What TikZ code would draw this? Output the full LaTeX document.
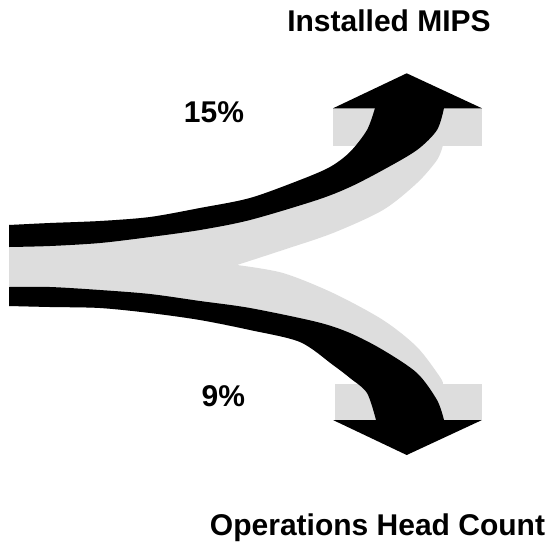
\documentclass[tikz,border=0pt]{standalone}
\usepackage{fontspec}
\setmainfont{Liberation Sans}
\definecolor{flowgray}{RGB}{221,221,221}
\begin{document}
\begin{tikzpicture}[x=1pt,y=1pt]
    \tikzstyle{every node}+=[inner sep=0pt, font=\fontsize{30}{36}\selectfont\bfseries]
    \useasboundingbox (0,0) rectangle (549,-542);
    \fill [flowgray] plot [smooth] coordinates {(9,-225) (50,-223) (100,-221) (150,-217) (200,-208) (250,-198) (300,-180) (330,-167) (350,-152) (367,-130) (375,-108)} -- (443,-108) -- (443,-145)
        -- plot [smooth] coordinates {(443,-145) (437,-160) (417,-183) (383,-210) (333,-233) (283,-250) (237,-265)}
        -- plot [smooth] coordinates {(237,-265) (283,-273) (333,-293) (383,-320) (417,-347) (440,-377) (443,-384)} -- (443,-420)
        -- plot [smooth] coordinates {(376,-420) (367,-393) (350,-378) (333,-365) (300,-342) (250,-330) (200,-320) (150,-313) (100,-308) (50,-307) (9,-306)} -- cycle;
    \fill [flowgray] (333,-108.3) rectangle (482,-145.7);
    \fill [flowgray] (335,-384) rectangle (482,-420);
    \fill [black] plot [smooth] coordinates {(9,-225) (50,-223) (100,-221) (150,-217) (200,-208) (250,-198) (300,-180) (330,-167) (350,-152) (367,-130) (375,-108)}
        -- plot [smooth] coordinates {(444,-108) (437,-130) (417,-150) (383,-170) (350,-187) (317,-200) (250,-220) (200,-230) (150,-237) (100,-243) (50,-246) (9,-247)} -- cycle;
    \fill [black] plot [smooth] coordinates {(9,-287) (50,-287) (100,-290) (150,-294) (200,-301) (250,-308) (317,-322) (350,-333) (383,-350) (417,-373) (437,-400) (444,-420)}
        -- plot [smooth] coordinates {(376,-420) (367,-393) (350,-378) (333,-365) (300,-342) (250,-330) (200,-320) (150,-313) (100,-308) (50,-307) (9,-306)} -- cycle;
    \fill [black] (333,-108.3) -- (406.7,-73.3) -- (482,-108.3) -- cycle;
    \fill [black] (333,-420) -- (406.7,-455) -- (482,-420) -- cycle;
    \draw (389,-31.7) node [anchor=base] (mips) {Installed MIPS};
    \draw (214,-122.3) node [anchor=base] (upshare) {15\%};
    \draw (223.3,-406.7) node [anchor=base] (downshare) {9\%};
    \draw (377.5,-535) node [anchor=base] (heads) {Operations Head Count};
\end{tikzpicture}
\end{document}
